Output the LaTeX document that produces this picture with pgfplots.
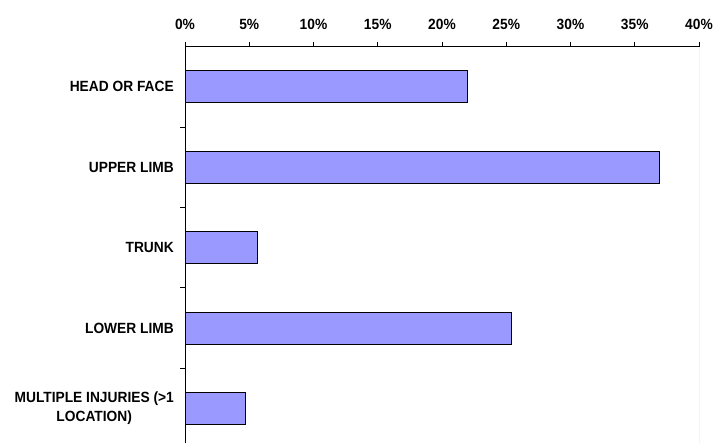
\documentclass[border=0pt]{standalone}
\usepackage{fontspec}
\setmainfont{Liberation Sans}[FakeStretch=0.93]
\usepackage{pgfplots}
\pgfplotsset{compat=1.18}
\definecolor{barblue}{HTML}{9999FF}
\newcommand{\lblfont}{\fontsize{14.8}{18.7}\selectfont\bfseries}
\begin{document}
\begin{tikzpicture}
\useasboundingbox (0,0) rectangle (717pt,443pt);
\begin{axis}[
    at={(185pt,0pt)}, anchor=south west,
    scale only axis,
    width=514pt, height=396.4pt,
    xbar, bar width=32pt,
    xmin=0, xmax=40, ymin=-0.43, ymax=4.5,
    axis x line*=top, axis y line*=left,
    axis line style={line width=0.8pt},
    tick align=outside,
    major tick length=5pt,
    tick style={black, line width=0.8pt},
    xtick={0,5,...,40},
    xticklabels={0\%,5\%,10\%,15\%,20\%,25\%,30\%,35\%,40\%},
    ytick={0.5,1.5,2.5,3.5},
    yticklabels={},
    extra y ticks={0,1,2,3,4},
    extra y tick labels={{MULTIPLE INJURIES (>1\\LOCATION)},LOWER LIMB,TRUNK,UPPER LIMB,HEAD OR FACE},
    extra y tick style={major tick length=0pt},
    every tick label/.append style={font=\lblfont},
    y tick label style={align=center, inner sep=0pt, xshift=-11pt},
    x tick label style={inner sep=0pt, yshift=12pt},
]
\addplot[draw=black, line width=0.8pt, fill=barblue] coordinates {
    (4.7,0) (25.4,1) (5.6,2) (36.9,3) (22.0,4)
};
\draw[gray!70, line width=0.8pt] (rel axis cs:1,0) -- (rel axis cs:1,1);
\end{axis}
\end{tikzpicture}
\end{document}
